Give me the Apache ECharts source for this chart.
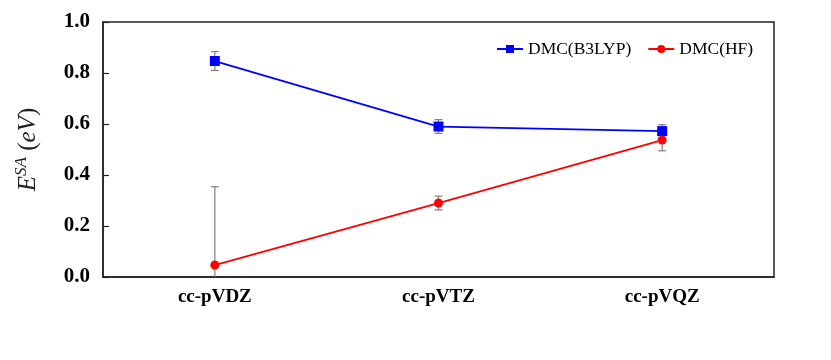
<!DOCTYPE html>
<html><head><meta charset="utf-8">
<script src="https://cdn.jsdelivr.net/npm/echarts@6/dist/echarts.min.js"></script>
<style>html,body{margin:0;padding:0;background:#fff}#c{width:831px;height:360px}</style>
</head><body><div id="c"></div>
<script>
const categories = ['cc-pVDZ', 'cc-pVTZ', 'cc-pVQZ'];
const b3lypValues = [0.847, 0.590, 0.572];
const b3lypErrors = [0.037, 0.027, 0.025];
const hfValues = [0.047, 0.290, 0.537];
const hfErrors = [0.307, 0.027, 0.042];
const yTicks = [0, 0.2, 0.4, 0.6, 0.8, 1.0];

const serif = 'Liberation Serif';
function errData(vals, errs) {
  return vals.map((v, i) => [i, v - errs[i], v + errs[i]]);
}
function errRender(params, api) {
  const x = api.value(0);
  const lo = api.coord([x, api.value(1)]);
  const hi = api.coord([x, api.value(2)]);
  const w = 4;
  const style = { stroke: '#808080', lineWidth: 1.2 };
  return {
    type: 'group',
    children: [
      { type: 'line', shape: { x1: lo[0], y1: lo[1], x2: hi[0], y2: hi[1] }, style },
      { type: 'line', shape: { x1: hi[0] - w, y1: hi[1], x2: hi[0] + w, y2: hi[1] }, style },
      { type: 'line', shape: { x1: lo[0] - w, y1: lo[1], x2: lo[0] + w, y2: lo[1] }, style }
    ]
  };
}
const chart = echarts.init(document.getElementById('c'));
chart.setOption({
  animation: false,
  grid: { left: 103, right: 57, top: 22, bottom: 83, show: true, borderColor: '#222', borderWidth: 1.5, backgroundColor: 'transparent' },
  legend: {
    left: 491, top: 35, itemWidth: 26, itemHeight: 10, itemGap: 16,
    textStyle: { fontFamily: serif, fontSize: 17.5, color: '#000' },
    data: ['DMC(B3LYP)', 'DMC(HF)']
  },
  xAxis: {
    type: 'category', data: categories, boundaryGap: true,
    axisLine: { lineStyle: { color: '#222', width: 1.5 } },
    axisTick: { inside: true, alignWithLabel: true, length: 6, lineStyle: { color: '#222', width: 1.5 } },
    axisLabel: { fontFamily: serif, fontWeight: 'bold', fontSize: 19, color: '#000', margin: 11 },
    splitLine: { show: false }
  },
  yAxis: {
    type: 'value', min: 0, max: 1, interval: 0.2,
    axisLine: { show: true, lineStyle: { color: '#222', width: 1.5 } },
    axisTick: { show: true, inside: true, length: 6, lineStyle: { color: '#222', width: 1.2 } },
    axisLabel: { fontFamily: serif, fontWeight: 'bold', fontSize: 21, color: '#000', margin: 13,
      formatter: v => yTicks.includes(+v.toFixed(1)) ? v.toFixed(1) : '' },
    splitLine: { show: false },
    name: '{i|E}{sup|SA}{n| (}{i|eV}{n|)}',
    nameLocation: 'middle', nameRotate: 90, nameGap: 62,
    nameTextStyle: {
      rich: {
        i: { fontFamily: serif, fontStyle: 'italic', fontSize: 25, color: '#222', verticalAlign: 'bottom', lineHeight: 28 },
        n: { fontFamily: serif, fontSize: 25, color: '#222', verticalAlign: 'bottom', lineHeight: 28 },
        sup: { fontFamily: serif, fontStyle: 'italic', fontSize: 17, color: '#222', verticalAlign: 'top', lineHeight: 28 }
      }
    }
  },
  series: [
    { name: 'DMC(B3LYP)', type: 'line', data: b3lypValues, color: '#0000ff',
      symbol: 'rect', symbolSize: 10, lineStyle: { width: 1.8, color: '#0000ff' }, itemStyle: { color: '#0000ff' }, z: 3 },
    { name: 'DMC(HF)', type: 'line', data: hfValues, color: '#ff0000',
      symbol: 'circle', symbolSize: 9, lineStyle: { width: 1.8, color: '#ff0000' }, itemStyle: { color: '#ff0000' }, z: 3 },
    { type: 'custom', renderItem: errRender, data: errData(b3lypValues, b3lypErrors), clip: true, z: 2, silent: true },
    { type: 'custom', renderItem: errRender, data: errData(hfValues, hfErrors), clip: true, z: 2, silent: true }
  ]
});
</script></body></html>
